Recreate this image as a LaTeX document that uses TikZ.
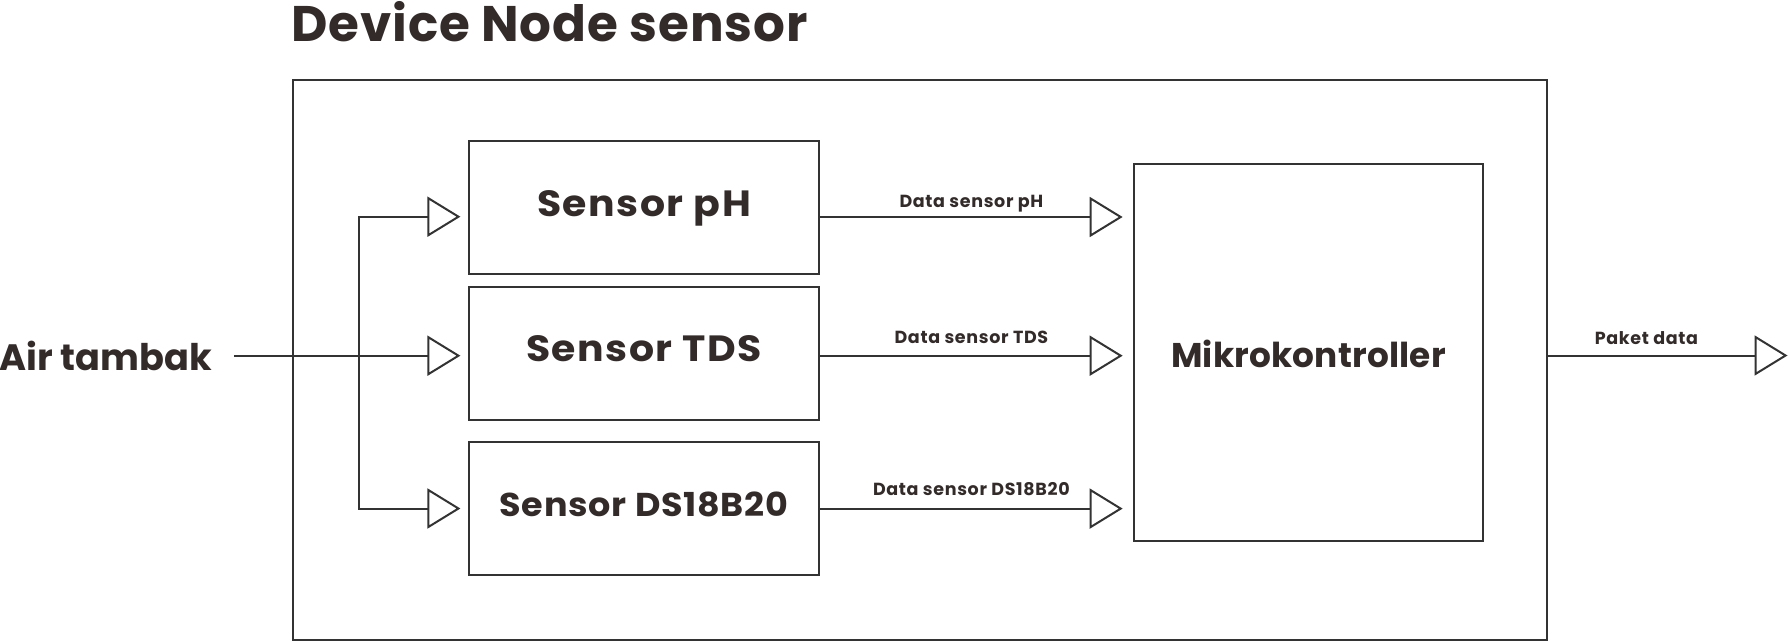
\documentclass[tikz,border=0pt]{standalone}
\usepackage{fontspec}
\setmainfont{Poppins}
\usetikzlibrary{arrows.meta,calc}
\definecolor{ink}{HTML}{322B2A}
\definecolor{wire}{HTML}{333333}
\newcommand{\popfont}[3]{\fontsize{#1}{#1}\selectfont\bfseries\addfontfeatures{LetterSpace=#2,FakeStretch=#3}}
\begin{document}
\begin{tikzpicture}[x=1pt,y=-1pt,
  frame/.style={draw=wire,line width=2.2pt,inner sep=0pt},
  box/.style={frame,minimum width=350pt,minimum height=133.6pt,text=ink,
    text height=25.5pt,text depth=8.5pt,font=\popfont{36.5}{4.2}{1.08}},
  wirearrow/.style={draw=wire,line width=2pt,-{Triangle[open,length=33pt,width=40pt]}},
  lbl/.style={text=ink,font=\popfont{17.5}{3.8}{1},anchor=base,inner sep=0pt},
]
\useasboundingbox (0,0) rectangle (1790,642);
\node[frame,line width=2.6pt,minimum width=1254pt,minimum height=560pt] (outer) at (920,360) {};
\node[text=ink,font=\popfont{50}{1.8}{1},anchor=base west,inner sep=0pt] (title) at (291,41.7) {Device Node sensor};
\node[box,text depth=7.1pt] (ph) at (644,207.5) {Sensor pH};
\node[box,text depth=9.1pt] (tds) at (644,353.5) {Sensor TDS};
\node[box,minimum height=133pt,text height=23.3pt,text depth=7.5pt,font=\popfont{33}{2.3}{1.06}] (ds) at (644,508.8) {Sensor DS18B20};
\node[frame,minimum width=349.5pt,minimum height=377.5pt,text=ink,text height=29.6pt,text depth=0pt,
  font=\popfont{34.3}{0.5}{1}] (mikro) at (1308.5,352.5) {Mikrokontroller};
\node[text=ink,font=\popfont{36.7}{0}{1},anchor=base west,inner sep=0pt] (air) at (-1,370.7) {Air tambak};
\coordinate (split) at (359.3,355.7);
\coordinate (out) at (1787.5,355.5);
\draw[wirearrow] ($(air.east |- split)+(22,0)$) -- ($(tds.west |- split)+(-7.5,0)$);
\draw[wirearrow] (split) |- ($(ph.west)+(-7.5,9.2)$);
\draw[wirearrow] (split) |- ($(ds.west)+(-7.5,-0.3)$);
\draw[wirearrow] ($(ph.east)+(0,9.5)$) -- node[lbl,midway,yshift=9.8pt] {Data sensor pH} ($(mikro.west |- ph.east)+(-10,9.5)$);
\draw[wirearrow] ($(tds.east)+(0,2.2)$) -- node[lbl,midway,yshift=12.4pt] {Data sensor TDS} ($(mikro.west |- tds.east)+(-10,2.2)$);
\draw[wirearrow] ($(ds.east)+(0,-0.2)$) -- node[lbl,midway,yshift=13pt] {Data sensor DS18B20} ($(mikro.west |- ds.east)+(-10,-0.2)$);
\draw[wirearrow] (outer.east |- out) -- node[lbl,pos=0.41,yshift=11.5pt] {Paket data} (out);
\end{tikzpicture}
\end{document}
